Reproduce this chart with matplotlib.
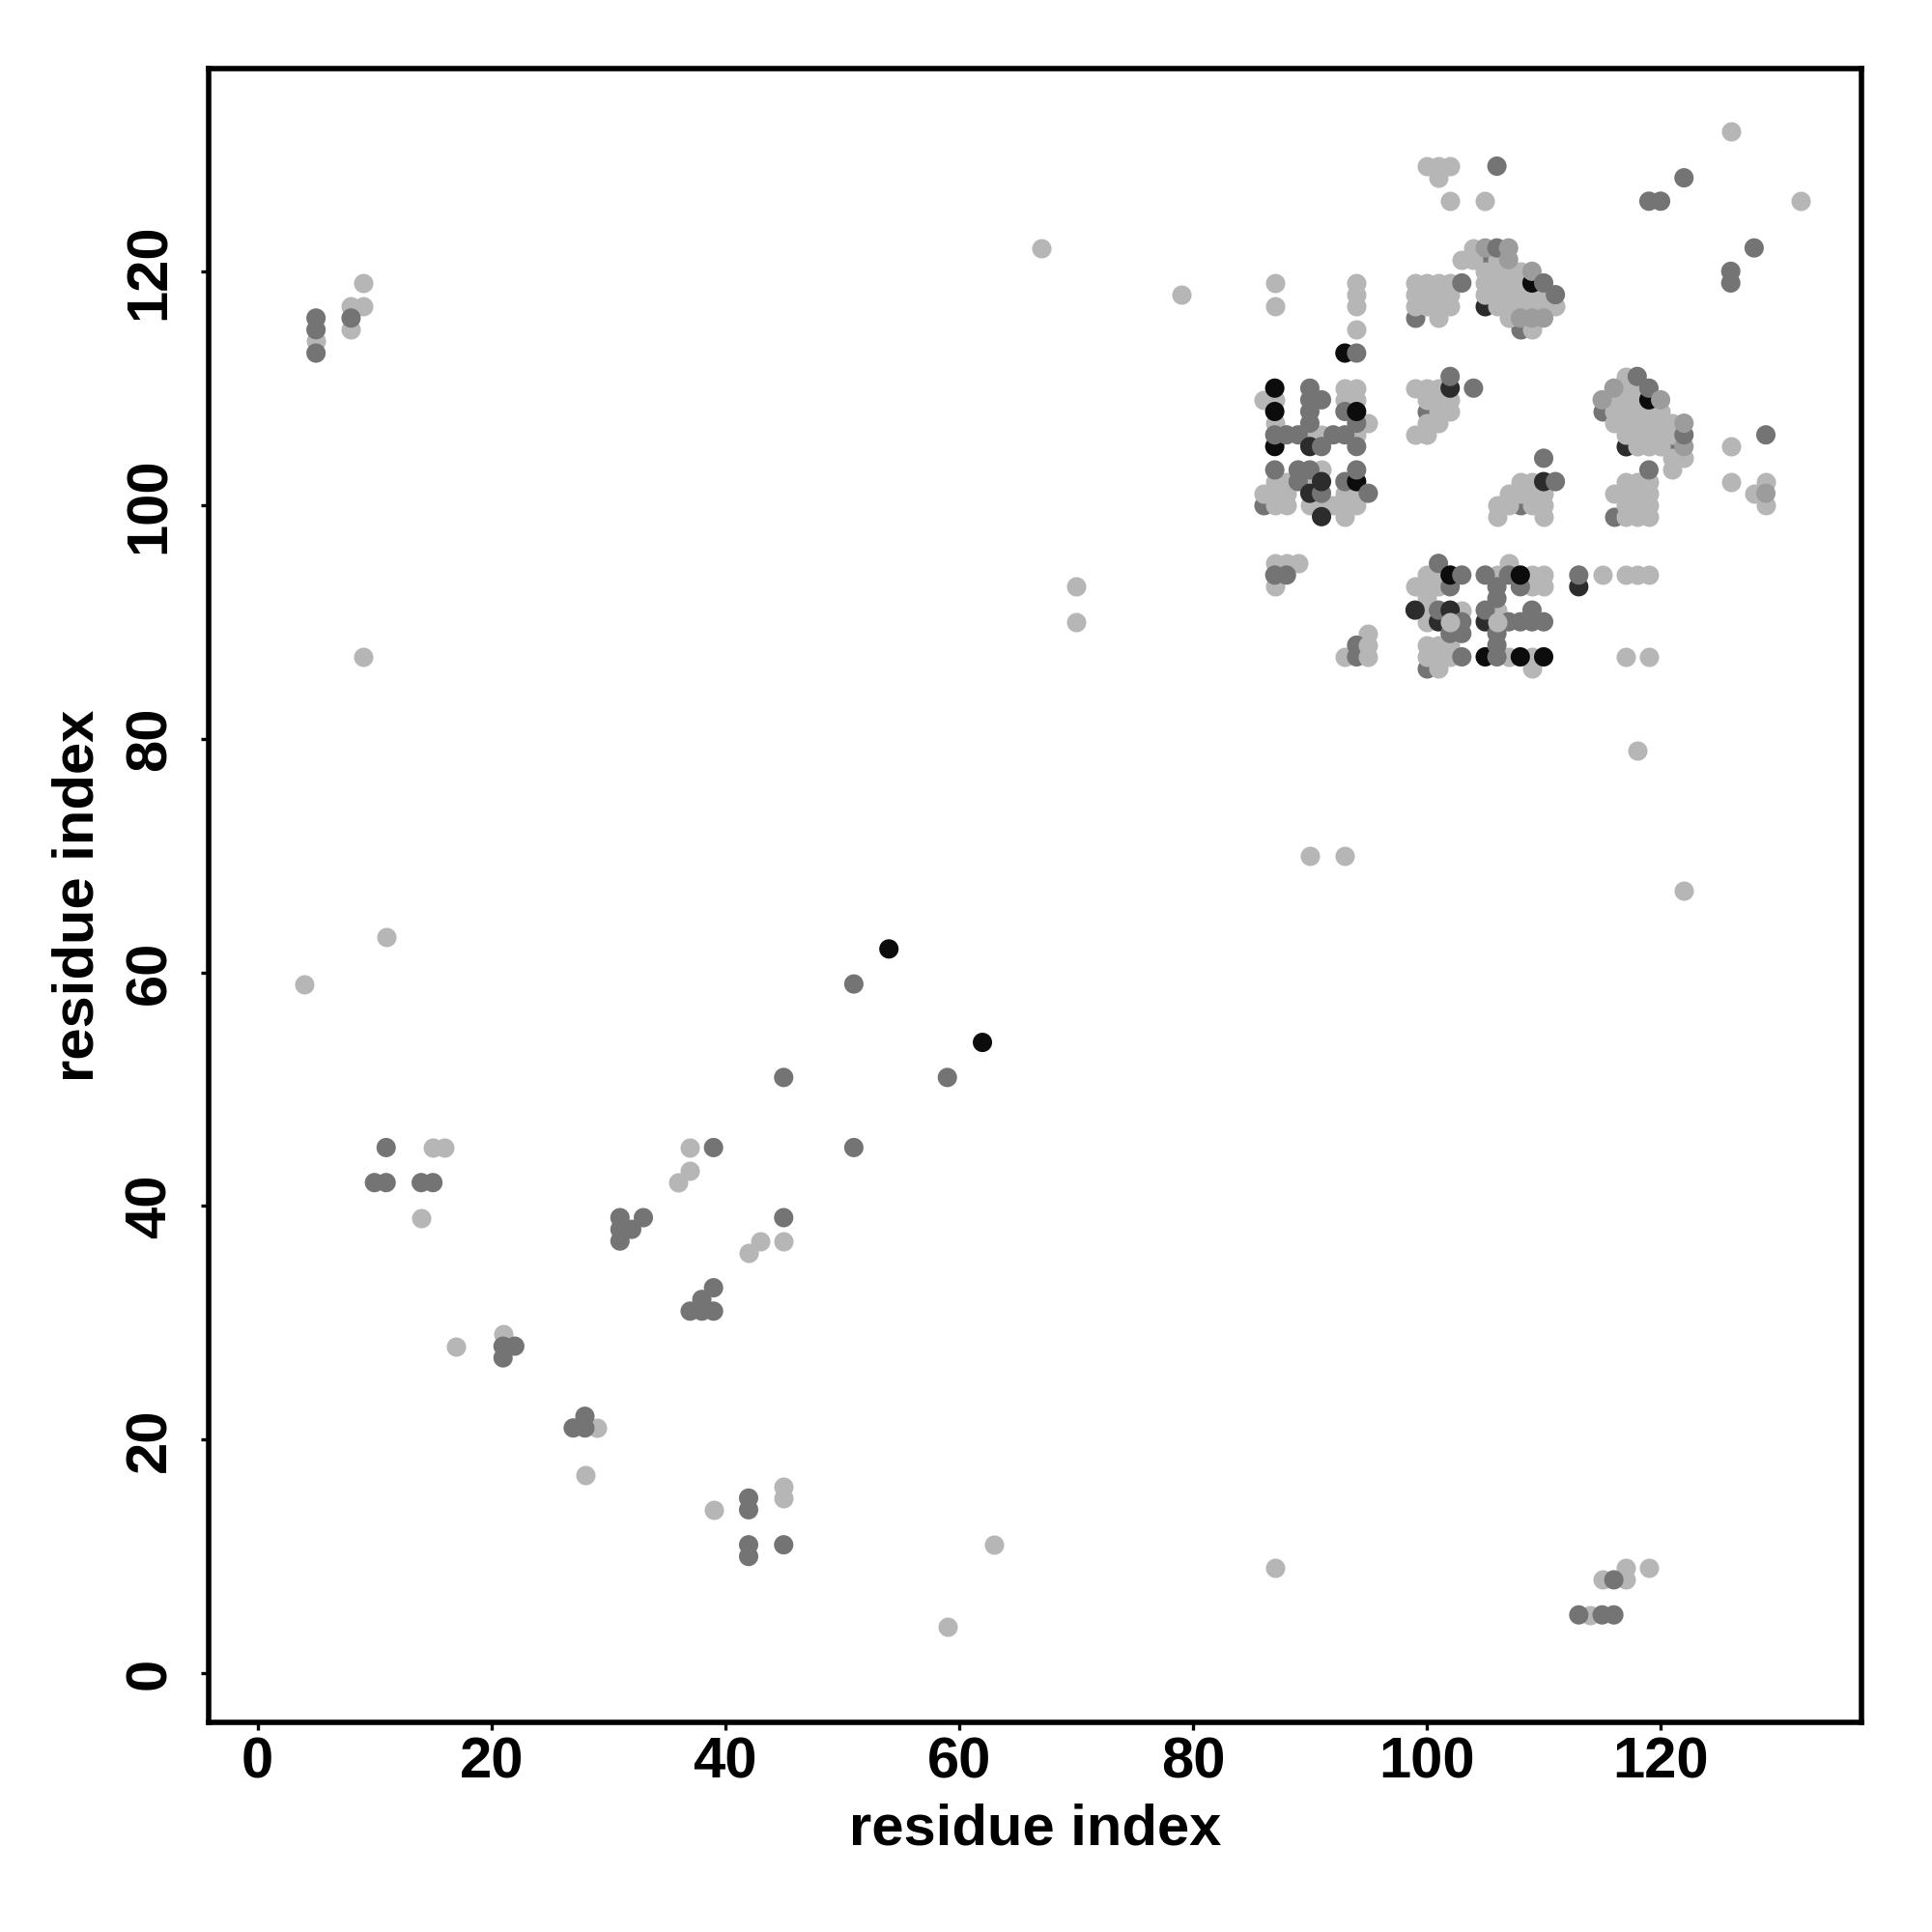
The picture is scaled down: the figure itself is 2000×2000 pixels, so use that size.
import matplotlib
matplotlib.use("Agg")
import matplotlib.pyplot as plt

black_points = [(54,62),(62,54),(87,110),(87,108),(87,105),(94,102),(94,108),(93,113),
    (109,119),(119,109),(102,94),(108,94),(108,87),(110,87),(105,87)]
dark_points = [(102,110),(90,105),(90,101),(91,99),(91,102),(110,102),(113,93),
    (99,91),(102,91),(101,90),(105,90)]
mid_points = [(5,113),(5,115),(5,116),(8,116),(10,42),(11,42),(14,42),(15,42),(11,45),(21,28),(22,28),(21,27),
    (27,21),(28,21),(28,22),(31,37),(31,38),(31,39),(32,38),(33,39),(37,31),(38,31),(39,31),(38,32),(39,33),
    (39,45),(45,39),(45,51),(51,45),(51,59),(59,51),(42,15),(42,14),(42,11),(42,10),(45,11),
    (115,5),(116,5),(113,5),(116,8),(128,122),(126,120),(126,119),(122,128),(119,126),(120,126),(106,129),(129,106),
    (102,111),(104,110),(90,110),(90,109),(91,109),(90,108),(93,108),(90,107),(94,107),
    (87,106),(88,106),(89,106),(92,106),(93,106),(91,105),(94,105),(87,103),(89,103),(90,103),(94,103),
    (89,102),(93,102),(91,101),(95,101),(110,104),(111,102),
    (106,122),(103,119),(110,119),(111,118),(118,111),(119,110),
    (122,106),(119,103),(101,95),(103,94),(105,94),(107,94),(113,94),(102,93),(106,93),(108,93),
    (106,92),(101,91),(105,91),(109,91),(103,90),(107,90),(108,90),(109,90),(110,90),(102,89),(103,89),(106,89),
    (106,88),(103,87),(106,87),(87,94),(88,94),(94,113),(94,88),(94,87)]
covered_mid_points = [(86,100),(100,108),(108,100),(105,121),(99,116),(108,115),(115,108),(121,105),(116,99),(100,86)]
covered_dark_points = [(105,117),(117,105)]
midlight_points = [(105,122),(107,122),(107,121),(109,120),(108,116),(109,116),(110,116),
    (116,110),(115,109),(120,109),(122,107),(122,105),(129,101)]
top_light_points = [(95,87),(95,88),(102,90),(106,90)]
light_points = [(4,59),(9,87),(5,114),(8,115),(8,117),(9,117),(9,119),(11,63),(15,45),(16,45),(14,39),(17,28),(21,29),
    (29,21),(28,17),(36,42),(37,43),(37,45),(42,36),(43,37),(45,37),(39,14),(45,15),(45,16),(63,11),(59,4),(87,9),
    (67,122),(79,118),(70,93),(70,90),(90,70),(93,70),(122,67),(118,79),(126,132),(132,126),(114,5),(115,8),(117,8),(117,9),(119,9),
    (87,119),(87,117),(94,119),(94,118),(94,117),(94,115),(93,110),(94,110),(99,110),(100,110),(101,110),
    (86,109),(87,109),(93,109),(94,109),(100,109),(101,109),(102,109),(101,108),(102,108),(87,107),(95,107),(100,107),(101,107),
    (90,106),(91,106),(94,106),(99,106),(100,106),(91,103),(87,102),(88,102),(90,102),(108,102),(109,102),
    (86,101),(87,101),(88,101),(93,101),(94,101),(107,101),(108,101),(109,101),(110,101),
    (87,100),(88,100),(90,100),(91,100),(92,100),(93,100),(94,100),(106,100),(107,100),(109,100),(110,100),(93,99),(106,99),(110,99),
    (100,129),(101,129),(102,129),(101,128),(102,126),(105,126),(104,122),(103,121),(104,121),(106,121),
    (105,120),(106,120),(107,120),(108,120),(99,119),(100,119),(101,119),(102,119),(105,119),(106,119),(107,119),(108,119),
    (99,118),(100,118),(101,118),(102,118),(105,118),(106,118),(107,118),(108,118),(109,118),(110,118),
    (99,117),(100,117),(101,117),(102,117),(106,117),(107,117),(108,117),(109,117),(110,117),(111,117),(101,116),(107,116),(109,115),
    (117,111),(117,110),(118,110),(116,109),(117,109),(118,109),(116,108),(117,108),(118,108),(119,108),(120,108),
    (116,107),(117,107),(118,107),(119,107),(120,107),(121,107),(117,106),(118,106),(119,106),(120,106),(121,106),
    (118,105),(119,105),(120,105),(126,105),(121,104),(122,104),(121,103),(117,102),(118,102),(119,102),(126,102),(129,102),
    (116,101),(117,101),(118,101),(119,101),(128,101),(117,100),(118,100),(119,100),(129,100),(117,99),(118,99),(119,99),
    (107,95),(100,94),(101,94),(106,94),(109,94),(110,94),(115,94),(117,94),(118,94),(119,94),(99,93),(100,93),(101,93),(109,93),(110,93),
    (100,92),(100,91),(103,91),(106,91),(100,90),(100,88),(101,88),(102,88),(100,87),(101,87),(102,87),(107,87),(109,87),
    (117,87),(119,87),(101,86),(109,86),(87,95),(88,95),(89,95),(87,93),(95,89),(93,87)]

tick_values = [0, 20, 40, 60, 80, 100, 120]
axis_label = "residue index"

LIGHT, MIDLIGHT, MID, DARK, BLACK = "#b6b6b6", "#9c9c9c", "#747474", "#2c2c2c", "#0c0c0c"
under_groups = [(covered_mid_points, MID), (covered_dark_points, DARK), (light_points, LIGHT)]
over_groups = [(midlight_points, MIDLIGHT), (mid_points, MID), (dark_points, DARK), (black_points, BLACK)]

plt.rcParams["font.family"] = ["Liberation Sans", "DejaVu Sans"]
fig = plt.figure(figsize=(10, 10), dpi=200)
ax = fig.add_axes([216/2000, 1 - 1783/2000, (1927-216)/2000, (1783-71)/2000])

size = 52
for z, (pts, col) in enumerate(under_groups):
    ax.scatter([p[0] for p in pts], [p[1] for p in pts], s=size, c=col, linewidths=0, zorder=1.5 + 0.1 * z)
rest = sorted([(p[0], p[1], c) for pts, c in over_groups for p in pts])
ax.scatter([r[0] for r in rest], [r[1] for r in rest], s=size, c=[r[2] for r in rest], linewidths=0, zorder=3)
ax.scatter([p[0] for p in top_light_points], [p[1] for p in top_light_points], s=size, c=LIGHT, linewidths=0, zorder=4)

ax.set_xlim(-4.18, 137.18)
ax.set_ylim(-4.2, 137.35)
ax.set_xticks(tick_values)
ax.set_yticks(tick_values)
ax.tick_params(length=2.8, width=1.2, labelsize=21.5)
ax.tick_params(axis="x", pad=2.5)
ax.tick_params(axis="y", pad=9)
for t in ax.get_xticklabels() + ax.get_yticklabels():
    t.set_fontweight("bold")
for t in ax.get_yticklabels():
    t.set_rotation(90)
    t.set_va("center")
for s in ax.spines.values():
    s.set_linewidth(2.0)
ax.set_xlabel(axis_label, fontsize=21.5, fontweight="bold", labelpad=5)
ax.set_ylabel(axis_label, fontsize=21.5, fontweight="bold", labelpad=7)
fig.savefig("out.png", dpi=200)
